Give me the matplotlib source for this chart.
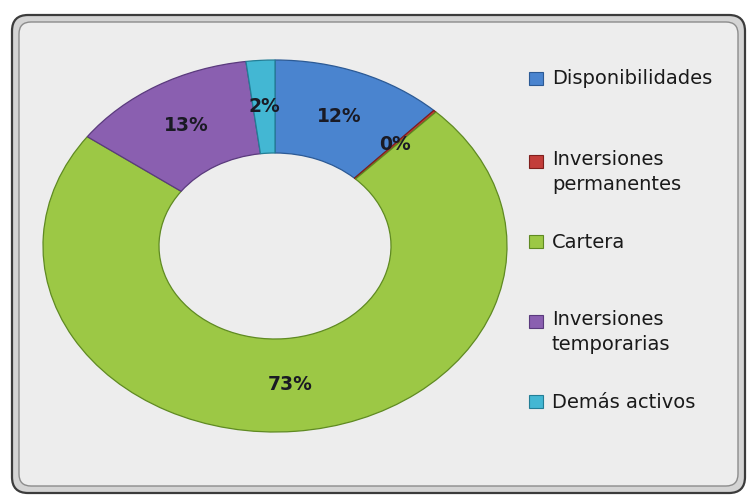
import matplotlib
matplotlib.use("Agg")
import matplotlib.pyplot as plt
from matplotlib.patches import FancyBboxPatch, Rectangle

# ================================
# DATOS
# ================================
categorias = ["Disponibilidades", "Inversiones\npermanentes", "Cartera",
              "Inversiones\ntemporarias", "Demás activos"]
valores = [12, 0.2, 72.8, 13, 2]
colores = ["#4a84cf", "#c33d3a", "#9cc845", "#8a5fb0", "#43b7d3"]
bordes = ["#2c5a95", "#7f1f1d", "#5f8a22", "#5a3a7d", "#237e96"]

W, H = 749, 500
fig = plt.figure(figsize=(W / 100, H / 100), dpi=100)

# ---------- fondo y marco redondeado ----------
bg = fig.add_axes([0, 0, 1, 1])
bg.set_xlim(0, W)
bg.set_ylim(H, 0)
bg.axis("off")
bg.add_patch(FancyBboxPatch((12, 15), 733, 478,
                            boxstyle="round,pad=0,rounding_size=16",
                            facecolor="#d4d4d4", edgecolor="#3c3c3c", lw=1.6))
bg.add_patch(FancyBboxPatch((19, 22), 719, 464,
                            boxstyle="round,pad=0,rounding_size=12",
                            facecolor="#ededed", edgecolor="#8c8c8c", lw=1.0))

# ---------- anillo (elíptico) ----------
ax = fig.add_axes([43 / W, 68 / H, 464 / W, 372 / H])
ax.patch.set_alpha(0)
wedges, textos, pcts = ax.pie(
    valores, colors=colores, startangle=90, counterclock=False,
    radius=1, autopct="%.0f%%", pctdistance=0.75,
    wedgeprops=dict(width=0.5, linewidth=0.9),
    textprops=dict(fontsize=13.5, fontweight="bold", color="#1a1a24",
                   family=["DejaVu Sans"]),
)
for w, c in zip(wedges, bordes):
    w.set_edgecolor(c)
ax.set_aspect("auto")
ax.set_xlim(-1, 1)
ax.set_ylim(-1, 1)
ax.axis("off")

# ---------- leyenda ----------
filas_y = [79, 162, 242, 322, 402]
for cat, col, brd, y in zip(categorias, colores, bordes, filas_y):
    bg.add_patch(Rectangle((529, y - 7), 14, 13, facecolor=col,
                           edgecolor=brd, lw=0.8))
    dos_lineas = "\n" in cat
    bg.text(552, y - 12 if dos_lineas else y, cat, fontsize=14,
            color="#1a1a1a", va="top" if dos_lineas else "center",
            ha="left", linespacing=1.4,
            family=["DejaVu Sans"])

fig.savefig("out.png", dpi=100)
